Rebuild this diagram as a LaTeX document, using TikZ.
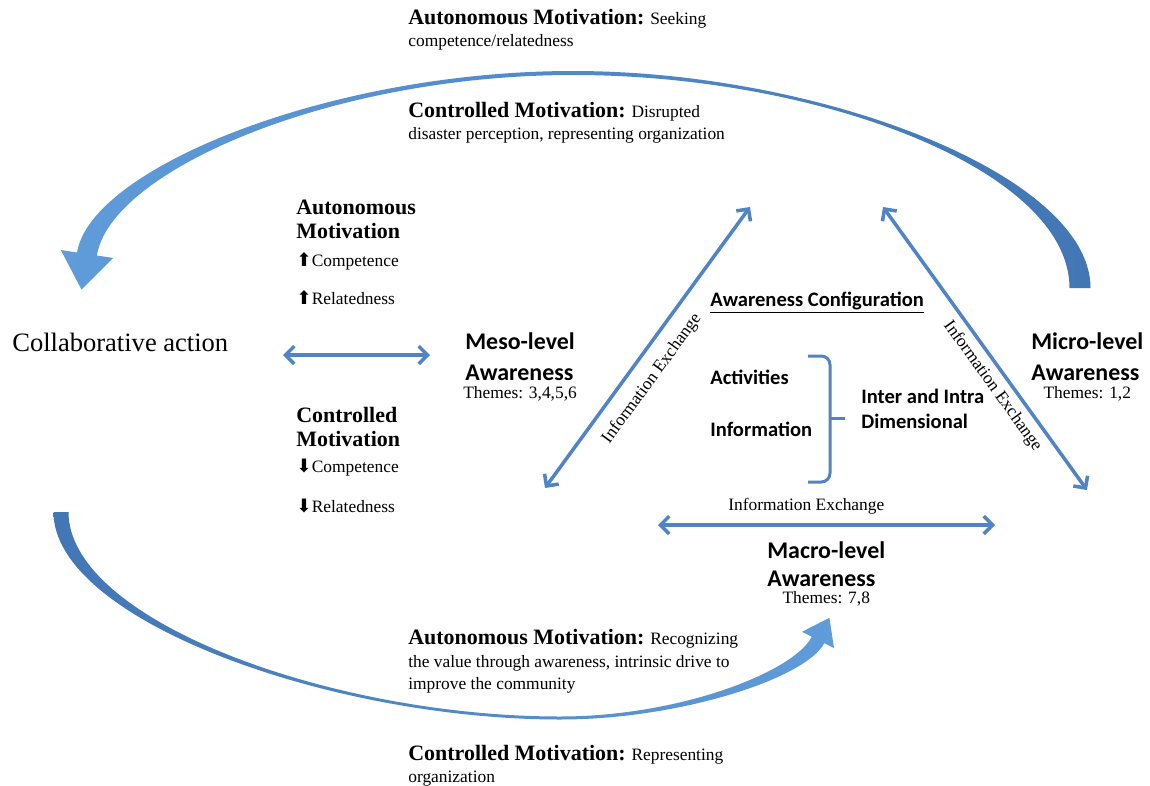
\documentclass[tikz,border=0pt]{standalone}
\usepackage{fontspec}
\setmainfont{Liberation Serif}
\newfontfamily\calib{Carlito}
\newfontfamily\symb{DejaVu Sans}
\usetikzlibrary{arrows.meta,positioning}
\definecolor{arrblue}{RGB}{80,132,196}
\definecolor{arrlight}{RGB}{96,156,218}
\definecolor{arrdark}{RGB}{66,118,180}
\newcommand{\uparr}{{\symb\fontsize{10.5}{10}\selectfont ⬆}}
\newcommand{\dnarr}{{\symb\fontsize{10.5}{10}\selectfont ⬇}}
\newcommand{\bmot}{\fontsize{12.5}{12.75}\selectfont\bfseries}

\begin{document}
\begin{tikzpicture}[x=0.02cm,y=-0.02cm,
  every node/.style={inner sep=0pt},
  txt/.style={anchor=west,align=left,font=\fontsize{9.9}{12.75}\selectfont},
  head/.style={anchor=west,align=left,font=\fontsize{12.5}{13.6}\selectfont\bfseries},
  lvl/.style={anchor=west,align=left,font=\calib\bfseries\fontsize{13.6}{17.6}\selectfont},
  conf/.style={anchor=west,align=left,font=\calib\bfseries\fontsize{11.7}{14.2}\selectfont},
  themes/.style={font=\fontsize{9.9}{12}\selectfont},
  link/.style={draw=arrblue,line width=2pt,
    {Straight Barb[length=5pt,width=10pt]}-{Straight Barb[length=5pt,width=10pt]}},
  lab/.style={font=\fontsize{9.9}{12}\selectfont,sloped},
  brc/.style={draw=arrblue,line width=1.7pt,rounded corners=5pt}]
  \path[use as bounding box,fill=white] (0,0) rectangle (1150,785);

  \shade[left color=arrlight,right color=arrdark]
    (1090.5,288) .. controls (1090.5,175) and (820,71) .. (573,71)
    .. controls (330,71) and (90.1,168.5) .. (77.1,252.5)
    -- (60.8,250) -- (81.5,289.6) -- (113.2,258) -- (96.9,255.5)
    .. controls (109.9,171.5) and (330,75) .. (573,75)
    .. controls (820,75) and (1069.5,170) .. (1069.5,288) -- cycle;
  \shade[left color=arrdark,right color=arrlight]
    (53.5,512) .. controls (53.5,620) and (330,719.5) .. (560,719.5)
    .. controls (680,719.5) and (806.2,678.2) .. (824.2,643.2)
    -- (834,648) -- (829.4,617.8) -- (802,631.8) -- (811.8,636.8)
    .. controls (793.8,671.8) and (680,716.5) .. (560,716.5)
    .. controls (330,716.5) and (68.5,620) .. (68.5,512) -- cycle;

  \node[txt] (autotop) at (408,30) {{\bmot Autonomous Motivation:} Seeking\\competence/relatedness};
  \node[txt] (ctrltop) at (408,123) {{\bmot Controlled Motivation:} Disrupted\\disaster perception, representing organization};
  \node[txt] (autobot) at (408,661.5) {{\bmot Autonomous Motivation:} Recognizing\\the value through awareness, intrinsic drive to\\improve the community};
  \node[txt] (ctrlbot) at (408,765.5) {{\bmot Controlled Motivation:} Representing\\organization};

  \node[anchor=west,font=\fontsize{15.1}{17}\selectfont] (collab) at (12,342) {Collaborative action};

  \node[head] (amot) at (296,219) {Autonomous\\Motivation};
  \node[txt] (acomp) at (296,261) {\uparr Competence};
  \node[txt] (arel) at (296,298) {\uparr Relatedness};
  \node[head] (cmot) at (296,427) {Controlled\\Motivation};
  \node[txt] (ccomp) at (296,468) {\dnarr Competence};
  \node[txt] (crel) at (296,506) {\dnarr Relatedness};

  \node[lvl] (meso) at (465,357) {Meso-level\\Awareness};
  \node[themes,below=3pt of meso] (mesoth) {Themes: 3,4,5,6};
  \node[lvl] (micro) at (1031,357) {Micro-level\\Awareness};
  \node[themes,below=3pt of micro] (microth) {Themes: 1,2};
  \node[lvl,font=\calib\bfseries\fontsize{13.6}{16}\selectfont] (macro) at (767,564) {Macro-level\\Awareness};
  \node[themes,below=2.5pt of macro] (macroth) {Themes: 7,8};

  \node[conf] (awconf) at (710,303) {\underline{Awareness Configuration}};
  \node[conf] (act) at (710,377) {Activities};
  \node[conf] (info) at (710,429) {Information};
  \node[conf] (inter) at (861,408.5) {Inter and Intra\\Dimensional};
  \draw[brc] (808,356) -- (830,356) -- (830,482) -- (808,482);
  \draw[brc] (830,418) -- (845,418);

  \coordinate (ca) at (283,355);
  \coordinate (cb) at (430,355);
  \coordinate (ml) at (545,488);
  \coordinate (mt) at (750,207);
  \coordinate (rt) at (883,207);
  \coordinate (rb) at (1087,490);
  \coordinate (bl) at (658,525);
  \coordinate (br) at (995,525);

  \draw[link] (ca) -- (cb);
  \draw[link] (ml) -- node[lab,below=7pt,pos=0.435] (labl) {Information Exchange} (mt);
  \draw[link] (rt) -- node[lab,below=3.5pt,pos=0.6] (labr) {Information Exchange} (rb);
  \draw[link] (bl) -- node[lab,above=5pt,pos=0.44] (labb) {Information Exchange} (br);
\end{tikzpicture}
\end{document}
